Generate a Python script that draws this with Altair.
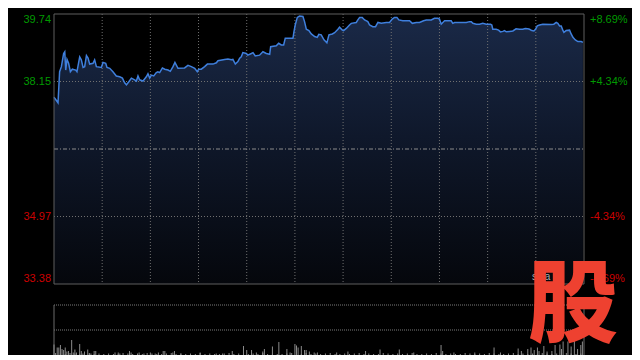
import altair as alt
import pandas as pd

# ---------------- data ----------------
minutes = [0, 2.5, 3.5, 4.6, 6.0, 6.7, 7.3, 8.1, 9.1, 10.2, 11.4, 13.5, 14.3, 16.0, 17.0, 18.1, 19.1, 20.2, 21.2, 22.2,
           24.3, 25.3, 26.4, 29.5, 30.5, 32.2, 33.0, 34.7, 36.7, 38.8, 40.9, 42.6, 44.0, 45.1, 46.7, 48.2, 50.2, 51.3,
           52.3, 53.3, 55.4, 57.5, 58.5, 59.6, 60.6, 62.1, 63.7, 64.7, 65.8, 67.5, 68.9, 71.0, 72.4, 74.1, 75.3, 77.2,
           81.3, 83.4, 85.5, 87.6, 89.2, 90.1, 91.7, 93.8, 95.5, 99.0, 101.1, 102.1, 106.2, 108.3, 110.4, 111.4, 112.9,
           114.5, 115.6, 116.6, 117.6, 119.7, 120.7, 122.9, 123.9, 125.3, 128.0, 130.1, 132.2, 134.3, 134.9, 138.4,
           139.9, 141.5, 143.0, 144.0, 148.8, 149.4, 150.2, 151.5, 152.9, 155.0, 156.0, 157.1, 158.7, 160.2, 162.3,
           163.9, 164.9, 166.4, 168.1, 169.9, 171.2, 173.3, 174.7, 176.8, 177.8, 179.5, 180.3, 182.0, 184.0, 185.1,
           188.2, 189.2, 190.3, 191.9, 193.4, 195.4, 196.5, 198.5, 200.2, 201.7, 203.8, 206.9, 208.9, 210.6, 212.0,
           213.5, 214.7, 217.2, 221.4, 223.1, 225.6, 227.6, 230.1, 231.8, 234.9, 236.9, 239.0, 240.0, 241.1, 242.1,
           243.2, 247.3, 248.3, 249.4, 253.6, 256.7, 258.7, 259.8, 260.8, 262.9, 264.9, 267.0, 269.1, 271.8, 272.6,
           273.2, 275.3, 276.8, 278.0, 279.5, 280.5, 281.6, 283.6, 285.7, 287.7, 289.8, 291.9, 293.4, 295.0, 296.1,
           297.5, 298.8, 299.8, 300.9, 302.3, 304.4, 309.6, 311.2, 312.7, 313.7, 314.8, 315.8, 316.8, 317.5, 318.9,
           321.0, 322.0, 323.1, 324.6, 326.2, 328.3, 329.3]
prices = [37.78, 37.65, 38.38, 38.50, 38.81, 38.85, 38.42, 38.67, 38.58, 38.38, 38.44, 38.42, 38.38, 38.73, 38.66,
          38.48, 38.50, 38.76, 38.70, 38.56, 38.58, 38.66, 38.50, 38.48, 38.60, 38.58, 38.48, 38.46, 38.38, 38.28,
          38.26, 38.23, 38.12, 38.07, 38.15, 38.23, 38.19, 38.16, 38.28, 38.19, 38.16, 38.26, 38.33, 38.23, 38.30,
          38.28, 38.36, 38.38, 38.36, 38.47, 38.44, 38.42, 38.39, 38.50, 38.60, 38.46, 38.47, 38.53, 38.50, 38.46,
          38.38, 38.44, 38.44, 38.50, 38.56, 38.56, 38.59, 38.64, 38.67, 38.68, 38.66, 38.67, 38.56, 38.62, 38.70,
          38.73, 38.83, 38.81, 38.77, 38.81, 38.83, 38.75, 38.77, 38.85, 38.81, 38.79, 38.97, 38.99, 39.05, 39.01,
          39.01, 39.17, 39.17, 39.32, 39.48, 39.66, 39.69, 39.68, 39.56, 39.38, 39.35, 39.27, 39.21, 39.19, 39.26,
          39.25, 39.13, 39.06, 39.25, 39.27, 39.30, 39.38, 39.43, 39.36, 39.35, 39.40, 39.48, 39.52, 39.54, 39.60,
          39.66, 39.66, 39.60, 39.56, 39.48, 39.44, 39.44, 39.54, 39.52, 39.54, 39.54, 39.62, 39.66, 39.66, 39.60,
          39.58, 39.58, 39.52, 39.54, 39.54, 39.58, 39.60, 39.60, 39.64, 39.64, 39.62, 39.50, 39.54, 39.58, 39.58,
          39.52, 39.54, 39.54, 39.54, 39.56, 39.56, 39.52, 39.50, 39.50, 39.52, 39.50, 39.50, 39.48, 39.38, 39.38,
          39.36, 39.32, 39.33, 39.35, 39.32, 39.33, 39.34, 39.39, 39.38, 39.38, 39.40, 39.39, 39.38, 39.35, 39.34,
          39.38, 39.46, 39.48, 39.50, 39.49, 39.50, 39.54, 39.52, 39.46, 39.46, 39.36, 39.31, 39.35, 39.36, 39.27,
          39.19, 39.13, 39.09, 39.09, 39.07]

vol_minutes = [0, 2, 3, 4, 5, 6, 7, 8, 9, 11, 12, 13, 14, 16, 17, 18, 19, 21, 22, 23,
               25, 26, 38, 40, 41, 47, 48, 53, 56, 60, 63, 65, 68, 69, 74, 75, 79, 91, 101, 105,
               111, 118, 120, 123, 126, 130, 131, 136, 140, 145, 147, 150, 151, 152, 154, 156, 157, 159, 162, 164,
               176, 183, 194, 203, 215, 224, 241, 242, 249, 262, 274, 278, 289, 291, 295, 297, 299, 301, 302, 305,
               307, 310, 312, 315, 316, 317, 320, 322, 324, 326, 328, 329]
vol_values = [21, 15, 15, 20, 12, 10, 15, 7, 8, 30, 5, 11, 5, 22, 8, 3, 7, 11, 3, 3,
              8, 8, 5, 5, 3, 8, 5, 5, 3, 5, 3, 5, 8, 8, 5, 8, 3, 5, 3, 3,
              8, 18, 10, 10, 5, 7, 12, 17, 26, 12, 5, 22, 19, 15, 18, 10, 10, 7, 5, 5,
              5, 7, 8, 11, 11, 5, 20, 8, 5, 5, 15, 5, 13, 8, 12, 15, 10, 15, 8, 18,
              7, 8, 20, 21, 12, 27, 27, 17, 30, 12, 20, 27]
base_minutes = list(range(1, 330, 3))
base_values = [4, 3, 2, 4, 3, 2, 3, 4, 2, 3, 2, 3, 2, 2, 4, 3, 2, 3, 2, 4,
               3, 2, 2, 3, 4, 2, 3, 2, 3, 2, 4, 2, 3, 2, 2, 3, 4, 2, 3, 3,
               2, 3, 2, 4, 2, 3, 2, 2, 3, 4, 3, 2, 4, 2, 3, 2, 3, 4, 2, 2,
               3, 2, 3, 4, 2, 3, 2, 2, 4, 3, 2, 3, 2, 3, 4, 2, 2, 3, 2, 4,
               3, 2, 3, 2, 2, 4, 3, 2, 3, 2, 4, 3, 2, 2, 3, 4, 2, 3, 2, 3,
               2, 4, 3, 2, 3, 2, 4, 3, 2, 3]

grid_minutes = [30, 60, 90, 120, 150, 180, 210, 240, 270, 300]
label_prices = [39.74, 38.15, 34.97, 33.38]
left_labels = ["39.74", "38.15", "34.97", "33.38"]
right_labels = ["+8.69%", "+4.34%", "-4.34%", "-8.69%"]
prev_close = 36.56
grid_prices = [38.15, 34.97]

# ---------------- layout ----------------
W, PH = 530, 270          # price panel
VT, VB = 291, 341         # volume panel top / bottom (plot coords)
GREEN, RED = "#009a00", "#cc0000"
PMIN, PMAX = min(label_prices), max(label_prices)

xs = alt.Scale(domain=[0, 330], range=[0, W], nice=False, zero=False)
yp = alt.Scale(domain=[PMIN, PMAX], range=[PH, 0], nice=False, zero=False)
yv = alt.Scale(domain=[0, 100], range=[VB, VT], nice=False, zero=False)

one = pd.DataFrame({"a": [0]})
price_df = pd.DataFrame({"m": minutes, "p": prices})
vol_df = pd.DataFrame({"m": vol_minutes + base_minutes, "v": vol_values + base_values})
grid_df = pd.DataFrame({"m": grid_minutes})
gp_df = pd.DataFrame({"p": grid_prices})
pc_df = pd.DataFrame({"p": [prev_close]})
lab_df = pd.DataFrame({"p": label_prices, "left": left_labels, "right": right_labels})

X = alt.X("m:Q", scale=xs, axis=None)
YP = alt.Y("p:Q", scale=yp, axis=None)
col = alt.condition(f"datum.p > {prev_close}", alt.value(GREEN), alt.value(RED))

area = alt.Chart(price_df).mark_area(
    color=alt.Gradient(
        gradient="linear",
        stops=[alt.GradientStop(color="#1a2947", offset=0),
               alt.GradientStop(color="#0f182b", offset=0.45),
               alt.GradientStop(color="#05070c", offset=1)],
        x1=1, x2=1, y1=0, y2=1)
).encode(x=X, y=alt.Y("p:Q", scale=yp, axis=None, stack=None), y2=alt.datum(PMIN))

vgrid = alt.Chart(grid_df).mark_rule(color="#707070", strokeDash=[1, 2], strokeWidth=1).encode(
    x=X, y=alt.value(0), y2=alt.value(PH))
hgrid = alt.Chart(gp_df).mark_rule(color="#707070", strokeDash=[1, 2], strokeWidth=1).encode(
    y=YP, x=alt.value(0), x2=alt.value(W))
pcline = alt.Chart(pc_df).mark_rule(color="#8c8c8c", strokeDash=[4, 2, 1, 2], strokeWidth=1).encode(
    y=YP, x=alt.value(0), x2=alt.value(W))

line = alt.Chart(price_df).mark_line(color="#3f7fdc", strokeWidth=1.5).encode(x=X, y=YP)

frame = alt.Chart(one).mark_rect(filled=False, stroke="#5e5e5e", strokeWidth=1).encode(
    x=alt.value(0), x2=alt.value(W), y=alt.value(0), y2=alt.value(PH))

vtop = alt.Chart(one).mark_rule(color="#7a7a7a", strokeDash=[1, 1], strokeWidth=1).encode(
    x=alt.value(0), x2=alt.value(W), y=alt.value(VT))
vmid = alt.Chart(one).mark_rule(color="#7a7a7a", strokeDash=[1, 1], strokeWidth=1).encode(
    x=alt.value(0), x2=alt.value(W), y=alt.value((VT + VB) / 2))
vleft = alt.Chart(one).mark_rule(color="#6a6a6a", strokeWidth=1).encode(
    x=alt.value(0), y=alt.value(VT), y2=alt.value(VB))
vright = alt.Chart(one).mark_rule(color="#6a6a6a", strokeWidth=1).encode(
    x=alt.value(W), y=alt.value(VT), y2=alt.value(VB))

bars = alt.Chart(vol_df).mark_rule(color="#8a8a8a", strokeWidth=1).encode(
    x=X, y=alt.Y("v:Q", scale=yv, axis=None), y2=alt.datum(0))

font = dict(font="Liberation Sans", fontSize=11)
lab_layers = []
for base, flt in [("top", f"datum.p == {PMAX}"), ("middle", f"datum.p != {PMAX} && datum.p != {PMIN}"),
                  ("bottom", f"datum.p == {PMIN}")]:
    lab_layers.append(alt.Chart(lab_df).transform_filter(flt).mark_text(
        align="right", baseline=base, **font).encode(x=alt.value(-3), y=YP, text="left:N", color=col))
    lab_layers.append(alt.Chart(lab_df).transform_filter(flt).mark_text(
        align="left", baseline=base, **font).encode(x=alt.value(536), y=YP, text="right:N", color=col))

sina = alt.Chart(one).mark_text(text="sina", align="left", baseline="bottom", font="Liberation Sans",
                                fontSize=10, color="#b0b0b0").encode(x=alt.value(478), y=alt.value(268))
logo = alt.Chart(one).mark_text(text="股", font="Noto Sans CJK SC", fontWeight=900, fontSize=90,
                                color="#ee4130", align="center", baseline="middle").encode(
    x=alt.value(519), y=alt.value(294))

chart = alt.layer(area, vgrid, hgrid, pcline, line, frame, vtop, vmid, vleft, vright, bars,
                  *lab_layers, sina, logo).resolve_scale(y="independent", x="shared").properties(
    width=W, height=VB,
    padding={"left": 46, "top": 6, "right": 48, "bottom": 0},
    autosize=alt.AutoSizeParams(type="none"),
).configure(background="#000000").configure_view(strokeWidth=0)

chart.save("out.html", embed_options={"renderer": "svg", "actions": False})
